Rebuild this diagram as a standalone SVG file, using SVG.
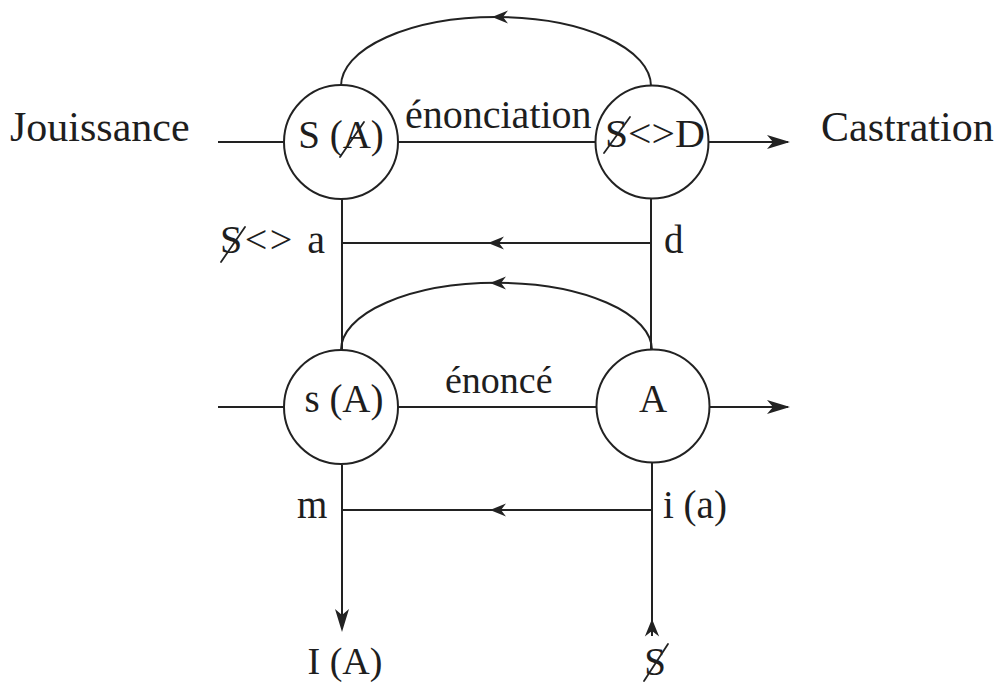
<svg xmlns="http://www.w3.org/2000/svg" xmlns:xlink="http://www.w3.org/1999/xlink" width="1008" height="684" viewBox="0 0 1008 684">
<style>
.ln{fill:none;stroke:#222;stroke-width:2}
.nd{fill:#fff;stroke:#222;stroke-width:2}
.ah{fill:#222;stroke:none}
.t{font-family:"Liberation Serif","Times New Roman",serif;fill:#1e1e1e}
.sl{stroke:#222;stroke-width:1.8;stroke-linecap:round}
</style>
<defs>
<path id="ahS" class="ah" d="M0,0 L-16,-6.5 L-11,0 L-16,6.5 Z"/>
<path id="ahL" class="ah" d="M0,0 L-23,-7 L-17,0 L-23,7 Z"/>
</defs>
<rect width="1008" height="684" fill="#fff"/>
<g id="connectors">
  <path class="ln" d="M341,86 A155,69 0 0 1 651,86"/>
  <path class="ln" d="M341,350 A155,67 0 0 1 652,350"/>
  <line class="ln" x1="218" y1="142" x2="283" y2="142"/>
  <line class="ln" x1="397" y1="142" x2="595" y2="142"/>
  <line class="ln" x1="708" y1="142" x2="788" y2="142"/>
  <line class="ln" x1="218" y1="407" x2="285" y2="407"/>
  <line class="ln" x1="398" y1="407" x2="597" y2="407"/>
  <line class="ln" x1="709" y1="407" x2="788" y2="407"/>
  <line class="ln" x1="342" y1="198" x2="342" y2="350"/>
  <line class="ln" x1="651" y1="198" x2="651" y2="350"/>
  <line class="ln" x1="342" y1="243" x2="651" y2="243"/>
  <line class="ln" x1="342" y1="465" x2="342" y2="628"/>
  <line class="ln" x1="652" y1="463" x2="652" y2="636"/>
  <line class="ln" x1="342" y1="510" x2="652" y2="510"/>
  <use xlink:href="#ahS" transform="translate(492,17) rotate(180)"/>
  <use xlink:href="#ahS" transform="translate(490,283) rotate(180)"/>
  <use xlink:href="#ahS" transform="translate(488,243) rotate(180)"/>
  <use xlink:href="#ahS" transform="translate(490,510) rotate(180)"/>
  <use xlink:href="#ahL" transform="translate(790,142)"/>
  <use xlink:href="#ahL" transform="translate(790,407)"/>
  <use xlink:href="#ahL" transform="translate(342,632) rotate(90)"/>
  <use xlink:href="#ahS" transform="translate(652,619) rotate(-90) scale(1.1)"/>
</g>
<g id="node-SbarA">
  <circle class="nd" cx="341" cy="142" r="57"/>
  <text class="t" x="341" y="148" font-size="39" text-anchor="middle">S (A)</text>
  <line class="sl" x1="340" y1="157" x2="364" y2="122"/>
</g>
<g id="node-SDdrive">
  <circle class="nd" cx="652" cy="142" r="56.5"/>
  <text class="t" x="655" y="147" font-size="40" text-anchor="middle" textLength="100" lengthAdjust="spacingAndGlyphs">S&lt;&gt;D</text>
  <line class="sl" x1="604" y1="153" x2="630" y2="117"/>
</g>
<g id="node-sA">
  <circle class="nd" cx="341" cy="407" r="57"/>
  <text class="t" x="344" y="412" font-size="39" text-anchor="middle">s (A)</text>
</g>
<g id="node-A">
  <circle class="nd" cx="653" cy="406" r="56.5"/>
  <text class="t" x="653" y="412" font-size="39" text-anchor="middle">A</text>
</g>
<g id="label-jouissance"><text class="t" x="10" y="141" font-size="42">Jouissance</text></g>
<g id="label-castration"><text class="t" x="821" y="141" font-size="42">Castration</text></g>
<g id="label-enonciation"><text class="t" x="405" y="128" font-size="40">énonciation</text></g>
<g id="label-enonce"><text class="t" x="445" y="393" font-size="38">énoncé</text></g>
<g id="label-fantasy">
  <text class="t" x="220" y="253" font-size="40" letter-spacing="2.5">S&lt;&gt; a</text>
  <line class="sl" x1="221" y1="262" x2="245" y2="227"/>
</g>
<g id="label-d"><text class="t" x="664" y="253" font-size="39">d</text></g>
<g id="label-m"><text class="t" x="297" y="518" font-size="39">m</text></g>
<g id="label-ia"><text class="t" x="663" y="518" font-size="39">i (a)</text></g>
<g id="label-IA"><text class="t" x="345" y="674" font-size="38" text-anchor="middle">I (A)</text></g>
<g id="label-S">
  <text class="t" x="655" y="675" font-size="39" text-anchor="middle">S</text>
  <line class="sl" x1="644" y1="681" x2="668" y2="644"/>
</g>
</svg>
